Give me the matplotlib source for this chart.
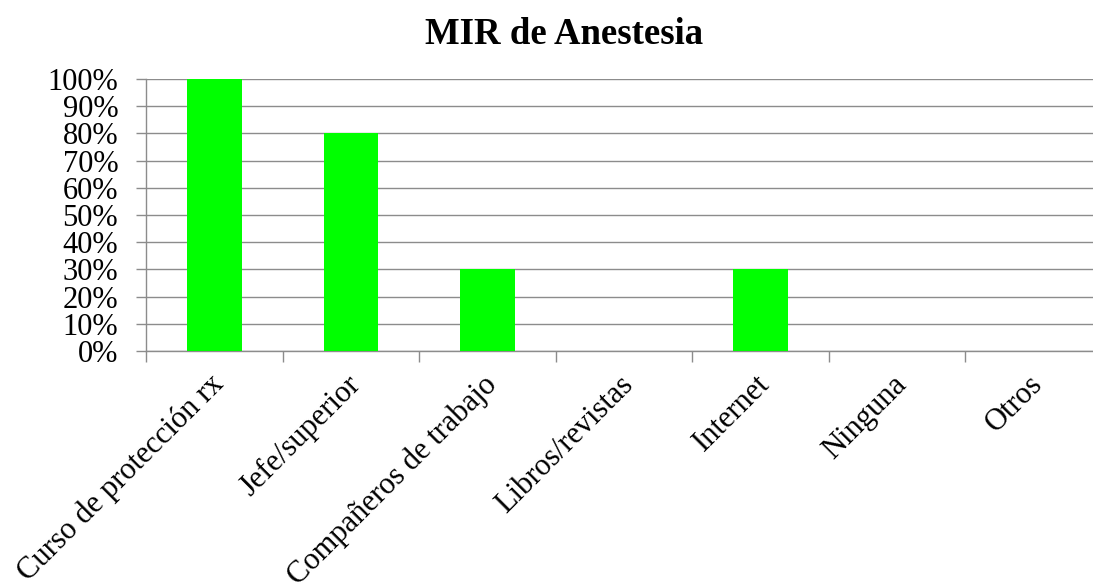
import numpy as np
import matplotlib
matplotlib.use('Agg')
import matplotlib.pyplot as plt
import matplotlib.transforms as mtransforms
from matplotlib.ticker import FuncFormatter

plt.rcParams['font.family'] = ['Liberation Serif', 'DejaVu Serif']

# ----------------------------------------------------------------------
# --- data

categories = ['Curso de protección rx', 'Jefe/superior', 'Compañeros de trabajo',
              'Libros/revistas', 'Internet', 'Ninguna', 'Otros']
values = [1.0, 0.8, 0.3, 0.0, 0.3, 0.0, 0.0]

grid_c = '#8c8c8c'

fig = plt.figure(figsize=(10.93, 5.86), dpi=100)
ax = fig.add_axes([146/1093, 1 - 351/586, (1102 - 146)/1093, (351 - 79)/586])

x = np.arange(len(categories))
ax.bar(x, values, width=0.4, color='#00ff00', zorder=3)

ax.set_xlim(-0.5, len(categories) - 0.5)
ax.set_ylim(0, 1.0)
ax.set_yticks(np.arange(0, 1.01, 0.1))
ax.yaxis.set_major_formatter(FuncFormatter(lambda v, p: f'{v*100:.0f}%'))
ax.yaxis.grid(True, color=grid_c, lw=1, zorder=0)
ax.tick_params(axis='y', length=7, width=1, color=grid_c, labelsize=22, pad=13)

# category labels at bar centres, tick marks between categories
ax.set_xticks(x)
ax.set_xticklabels(categories, rotation=45, ha='right', va='center', rotation_mode='anchor', fontsize=22)
ax.set_xticks(np.arange(-0.5, len(categories)), minor=True)
ax.tick_params(axis='x', which='major', length=0, pad=21)
ax.tick_params(axis='x', which='minor', length=8, width=1, color=grid_c)
shift = mtransforms.ScaledTranslation(5/100, 0, fig.dpi_scale_trans)
for lab in ax.get_xticklabels():
    lab.set_transform(lab.get_transform() + shift)

for side in ['top', 'right']:
    ax.spines[side].set_visible(False)
for side in ['left', 'bottom']:
    ax.spines[side].set_color(grid_c)
    ax.spines[side].set_linewidth(1)

fig.text(564/1093, 1 - 35/586, 'MIR de Anestesia', ha='center', va='center',
         fontsize=26.5, fontweight='bold')

fig.savefig('out.png', dpi=100)
